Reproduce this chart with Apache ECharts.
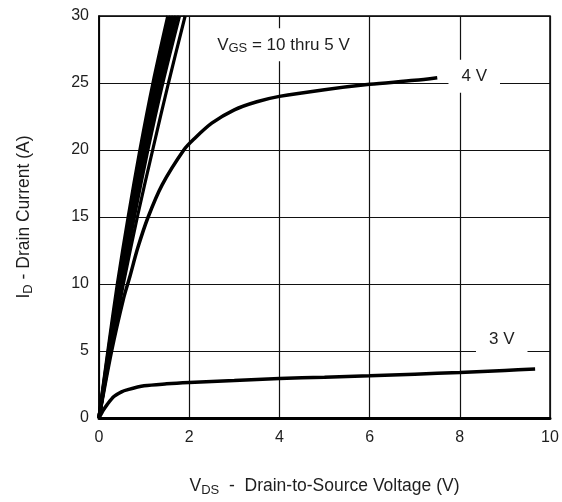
<!DOCTYPE html>
<html>
<head>
<meta charset="utf-8">
<script src="https://cdn.jsdelivr.net/npm/echarts@6/dist/echarts.min.js"></script>
<style>html,body{margin:0;padding:0;background:#fff}#c{width:562px;height:502px}</style>
</head>
<body>
<div id="c"></div>
<script>
// Curves: [VDS, ID] pairs
const vgs10 = [[0,0],[0.20,5],[0.41,10],[0.65,15],[0.91,20],[1.20,25],[1.53,30]];
const vgs9  = [[0,0],[0.21,5],[0.43,10],[0.68,15],[0.95,20],[1.25,25],[1.59,30]];
const vgs8  = [[0,0],[0.22,5],[0.45,10],[0.71,15],[0.99,20],[1.30,25],[1.65,30]];
const vgs7  = [[0,0],[0.23,5],[0.47,10],[0.74,15],[1.03,20],[1.35,25],[1.71,30]];
const vgs6  = [[0,0],[0.24,5],[0.50,10],[0.78,15],[1.08,20],[1.41,25],[1.78,30]];
const vgs5  = [[0,0],[0.26,5],[0.54,10],[0.85,15],[1.19,20],[1.54,25],[1.91,30]];
const vgs4  = [[0,0],[0.28,5],[0.55,9],[0.68,10.5],[0.86,12.7],[1.09,15],[1.4,17.4],[1.88,20],[2.1,20.8],[2.5,22.0],[3,23.0],[3.5,23.6],[4,24.0],[5,24.5],[6,24.9],[7,25.2],[7.5,25.4]];
const vgs3  = [[0,0],[0.1,0.6],[0.18,1.0],[0.33,1.6],[0.5,1.95],[0.62,2.1],[1,2.4],[1.5,2.55],[2,2.65],[3,2.8],[4,2.95],[5,3.05],[6,3.15],[7,3.27],[8,3.4],[9,3.55],[9.67,3.65]];
// annotation labels: [VDS, ID, text]
const annotations = [
  [4.09, 27.85, '{m|V}{s|GS}{m| = 10 thru 5 V}'],
  [8.32, 25.5, '{m|4 V}'],
  [8.93, 5.88, '{m|3 V}']
];
const xTicks = {min: 0, max: 10, interval: 2};
const yTicks = {min: 0, max: 30, interval: 5};

const chart = echarts.init(document.getElementById('c'), null, {renderer: 'canvas'});
const font = '"Liberation Sans", Arial, sans-serif';
const textColor = '#1e1e1e';
const rich = {
  m: {fontSize: 17, fontFamily: font, color: textColor, lineHeight: 20, textBorderWidth: 0},
  s: {fontSize: 13, fontFamily: font, color: textColor, lineHeight: 12, verticalAlign: 'bottom', textBorderWidth: 0}
};
const richTitle = {
  m: {fontSize: 17.5, fontFamily: font, color: textColor, lineHeight: 22},
  s: {fontSize: 13, fontFamily: font, color: textColor, lineHeight: 13, verticalAlign: 'bottom'}
};
function curve(d, w) {
  return {type: 'line', data: d, showSymbol: false, symbol: 'none', smooth: 0.3,
          lineStyle: {color: '#000', width: w || 3.6}, animation: false, z: 3};
}
chart.setOption({
  animation: false,
  grid: {left: 99, right: 12, top: 16, bottom: 83, show: true, borderColor: '#000', borderWidth: 1.5, backgroundColor: 'transparent'},
  xAxis: {
    type: 'value', min: xTicks.min, max: xTicks.max, interval: xTicks.interval,
    axisLine: {lineStyle: {color: '#000', width: 3}},
    axisTick: {show: false},
    axisLabel: {fontSize: 16, fontFamily: font, color: textColor, margin: 12},
    splitLine: {lineStyle: {color: '#111', width: 1.2}},
    name: '{m|V}{s|DS}{m|  -  Drain-to-Source Voltage (V)}',
    nameLocation: 'middle', nameGap: 57,
    nameTextStyle: {rich: richTitle}
  },
  yAxis: {
    type: 'value', min: yTicks.min, max: yTicks.max, interval: yTicks.interval,
    axisLine: {lineStyle: {color: '#000', width: 1.5}},
    axisTick: {show: false},
    axisLabel: {fontSize: 16, fontFamily: font, color: textColor, margin: 10},
    splitLine: {lineStyle: {color: '#111', width: 1.2}},
    name: '{m|I}{s|D}{m| - Drain Current (A)}',
    nameLocation: 'middle', nameGap: 64,
    nameTextStyle: {rich: richTitle}
  },
  series: [
    curve(vgs10), curve(vgs9), curve(vgs8), curve(vgs7), curve(vgs6), curve(vgs5, 3.2),
    curve(vgs4, 3.5), curve(vgs3, 3.5),
    {
      type: 'scatter', symbol: 'circle', symbolSize: 1, itemStyle: {color: '#fff'}, z: 10, silent: true,
      data: annotations.map(a => ({value: [a[0], a[1]], label: {formatter: a[2]}})),
      label: {show: true, position: 'inside', opacity: 1, color: textColor, textBorderWidth: 0,
              backgroundColor: '#fff', padding: [7, 13, 6, 13], rich: rich}
    }
  ]
});
</script>
</body>
</html>
